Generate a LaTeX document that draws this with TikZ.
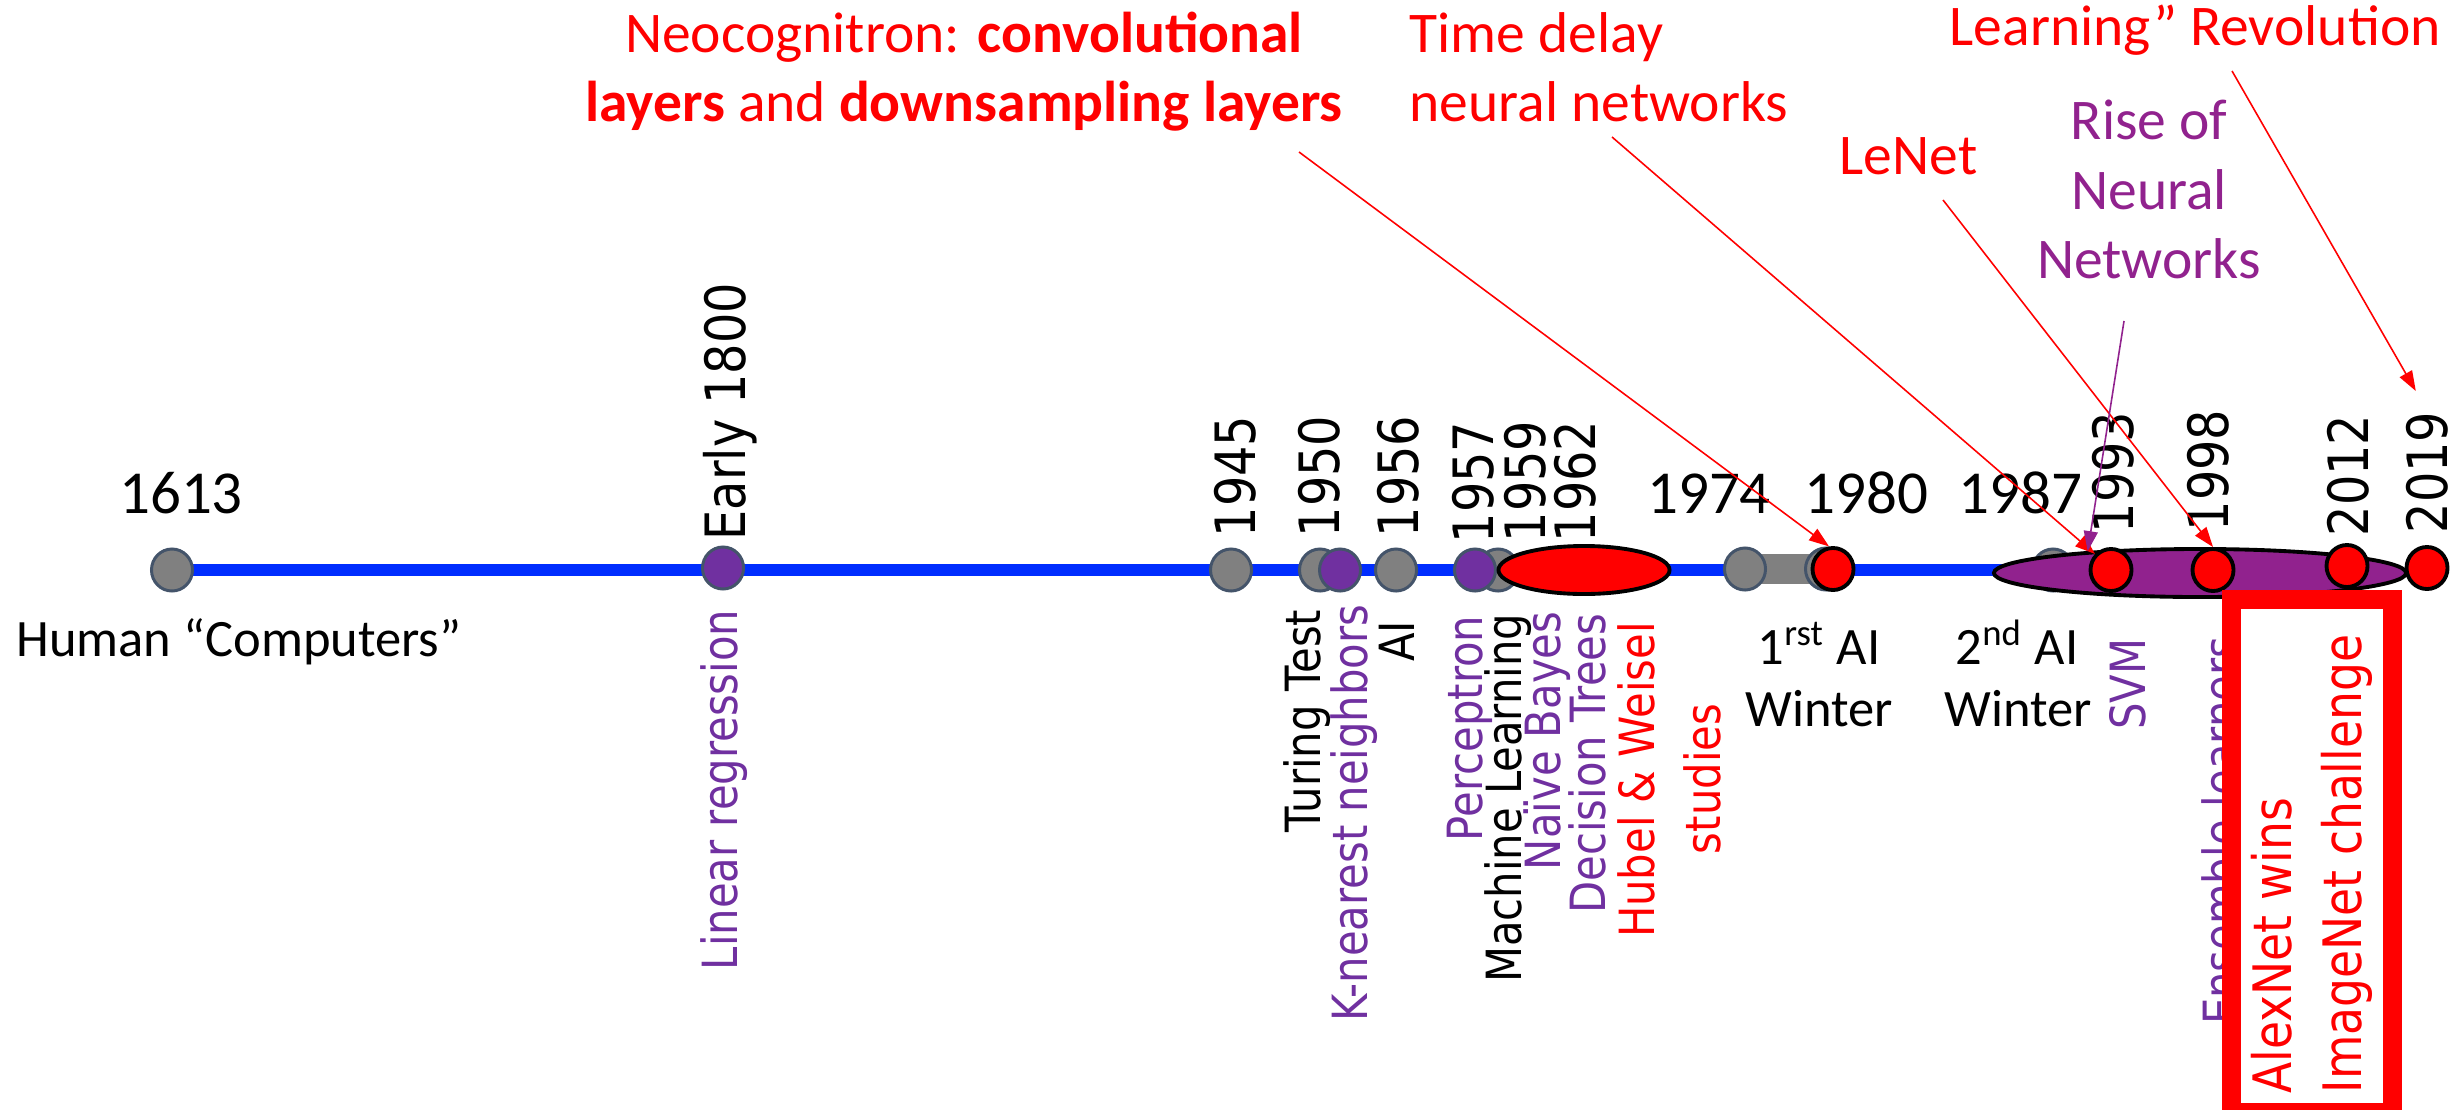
\documentclass[tikz,border=0pt]{standalone}
\usepackage{fontspec}
\setmainfont{Carlito}
\newfontfamily\tah{DejaVu Sans}[FakeStretch=0.86]
\usetikzlibrary{shapes.geometric,arrows.meta}
\pgfdeclarelayer{background}
\pgfsetlayers{background,main}
\definecolor{slate}{HTML}{44546A}
\definecolor{dgray}{HTML}{808080}
\definecolor{vio}{HTML}{7030A0}
\definecolor{nnp}{RGB}{145,34,142}
\definecolor{tlblue}{RGB}{0,45,255}
\begin{document}
\begin{tikzpicture}[x=0.01cm, y=-0.01cm,
  dot/.style={ellipse, minimum width=0.41cm, minimum height=0.42cm, inner sep=0pt, line width=0.85pt},
  gdot/.style={dot, fill=dgray, draw=slate},
  pdot/.style={dot, fill=vio, draw=slate},
  rdot/.style={dot, fill=red, draw=black, line width=1.1pt},
  yr/.style={font=\tah\fontsize{15.8pt}{19pt}\selectfont, rotate=90, anchor=base west, inner sep=0pt},
  lab/.style={font=\tah\fontsize{13.8pt}{16.5pt}\selectfont, rotate=90, anchor=base east, inner sep=0pt},
  alx/.style={font=\tah\fontsize{15.08pt}{18pt}\selectfont, rotate=90, anchor=base west, inner sep=0pt, text=red},
  hyr/.style={font=\fontsize{17.36pt}{20.8pt}\selectfont, anchor=base, inner sep=0pt},
  blab/.style={font=\fontsize{14.94pt}{18pt}\selectfont, anchor=base, inner sep=0pt},
  ttl/.style={font=\fontsize{16.36pt}{19.6pt}\selectfont, inner sep=0pt, text=red},
  arr/.style={-{Triangle[length=0.2cm,width=0.14cm]}, line width=0.45pt, draw=red},
]
\useasboundingbox (0,0) rectangle (2458,1109);
\clip (0,0) rectangle (2458,1109);

% ---------- timeline dots ----------
\node[gdot] (c1613) at (172,570) {};
\node[pdot] (c1800) at (723,568) {};
\node[gdot] (c1945) at (1231,570) {};
\node[gdot] (c1950) at (1320,570) {};
\node[pdot] (k1950) at (1340,570) {};
\node[gdot] (c1956) at (1396,570) {};
\node[gdot] (c1959) at (1498,570) {};
\node[pdot] (c1957) at (1475,570) {};
\node[ellipse, fill=red, draw=black, line width=1.1pt, minimum width=1.71cm, minimum height=0.48cm, inner sep=0pt] (c1962) at (1584,570) {};
\node[gdot] (c1974) at (1745,569) {};
\node[gdot] (g1980) at (1826,569) {};
\node[rdot] (c1980) at (1833,569) {};
\node[gdot] (g1987) at (2053,570) {};
\node[ellipse, fill=nnp, draw=black, line width=1.1pt, minimum width=4.12cm, minimum height=0.48cm, inner sep=0pt] (nn) at (2200,573) {};
\node[rdot] (c1993) at (2111,570) {};
\node[rdot] (c1998) at (2213,570) {};
\node[rdot] (c2012) at (2347,566) {};
\node[rdot] (c2019) at (2427,568) {};

\begin{pgfonlayer}{background}
  \draw[tlblue, line width=3.4pt] (c1613.center) -- (nn.center |- c1613.center);
  \draw[dgray, line width=8.5pt] (c1974.center) -- (c1980.center);
\end{pgfonlayer}

% ---------- vertical year labels ----------
\node[yr] (y1800) at (745,541) {Early 1800};
\node[yr] (y1945) at (1255,538) {1945};
\node[yr] (y1950) at (1339,538) {1950};
\node[yr] (y1956) at (1418,538) {1956};
\node[yr] (y1957) at (1493,544) {1957};
\node[yr] (y1959) at (1545,543) {1959};
\node[yr] (y1962) at (1595,543) {1962};
\node[yr] (y1993) at (2133,534) {1993};
\node[yr] (y1998) at (2228,532) {1998};
\node[yr] (y2012) at (2368,537) {2012};
\node[yr] (y2019) at (2447,534) {2019};

% ---------- horizontal year labels ----------
\node[hyr] (y1613) at (181,513) {1613};
\node[hyr] (y1974) at (1709,513) {1974};
\node[hyr] (y1980) at (1866,513) {1980};
\node[hyr] (y1987) at (2020,513) {1987};

% ---------- labels below the line ----------
\node[blab] (hum) at (239,656) {Human “Computers”};
\node[blab] (w1a) at (1819,664) {1\textsuperscript{rst} AI};
\node[blab] (w1b) at (1819,726) {Winter};
\node[blab] (w2a) at (2017,664) {2\textsuperscript{nd} AI};
\node[blab] (w2b) at (2018,726) {Winter};

\node[lab, text=vio] (linreg) at (737,609) {Linear regression};
\node[lab] (turing) at (1320,609) {Turing Test};
\node[lab, text=vio] (knn) at (1367,604) {K-nearest neighbors};
\node[lab] (ai) at (1414,620) {AI};
\node[lab, text=vio] (perc) at (1482,615) {Perceptron};
\node[lab] (ml) at (1521,613) {Machine Learning};
\node[lab, text=vio] (nb) at (1560,611) {Naïve Bayes};
\node[lab, text=vio] (dt) at (1605,613) {Decision Trees};
\node[lab, text=red, anchor=base] (hub) at (1654,780) {Hubel \& Weisel};
\node[lab, text=red, anchor=base] (stu) at (1720,779) {studies};
\node[lab, text=vio] (svm) at (2145,638) {SVM};
\node[lab, text=vio] (ens) at (2238,636) {Ensemble learners};

% ---------- AlexNet box ----------
\node[draw=red, line width=0.19cm, fill=white, minimum width=1.605cm, minimum height=5.13cm,
      inner sep=0pt, outer sep=0pt, anchor=north west] (alex) at (2231.5,599) {};
\node[alx] (ax1) at (2291,1094) {AlexNet wins};
\node[alx] (ax2) at (2361,1094) {ImageNet challenge};

% ---------- top annotations ----------
\node[ttl, anchor=base] (neo1) at (964,52) {Neocognitron: \textbf{convolutional}};
\node[ttl, anchor=base] (neo2) at (964,121) {\textbf{layers} and \textbf{downsampling layers}};
\node[ttl, anchor=base west] (td1) at (1409,52) {Time delay};
\node[ttl, anchor=base west] (td2) at (1409,121) {neural networks};
\node[ttl, anchor=base west] (len) at (1839,174) {LeNet};
\node[ttl, anchor=base, text=nnp] (ri1) at (2149,139) {Rise of};
\node[ttl, anchor=base, text=nnp] (ri2) at (2149,209) {Neural};
\node[ttl, anchor=base, text=nnp] (ri3) at (2149,278) {Networks};
\node[ttl, anchor=base west] (rev) at (1949,45) {Learning” Revolution};

% ---------- arrows ----------
\coordinate (neoA) at (1299,152);
\coordinate (tdA) at (1612,137);
\coordinate (lenA) at (1943,200);
\coordinate (riseA) at (2124,321);
\coordinate (revA) at (2232,71);
\draw[arr] (neoA) -- (c1980.100);
\draw[arr] (tdA) -- (c1993.135);
\draw[arr] (lenA) -- (c1998.north);
\draw[arr, draw=nnp, -{Triangle[length=0.2cm,width=0.14cm,fill=nnp]}] (riseA) -- (nn.169);
\draw[arr] (revA) -- ([shift={(-11,-20)}]y2019.east);
\end{tikzpicture}
\end{document}
